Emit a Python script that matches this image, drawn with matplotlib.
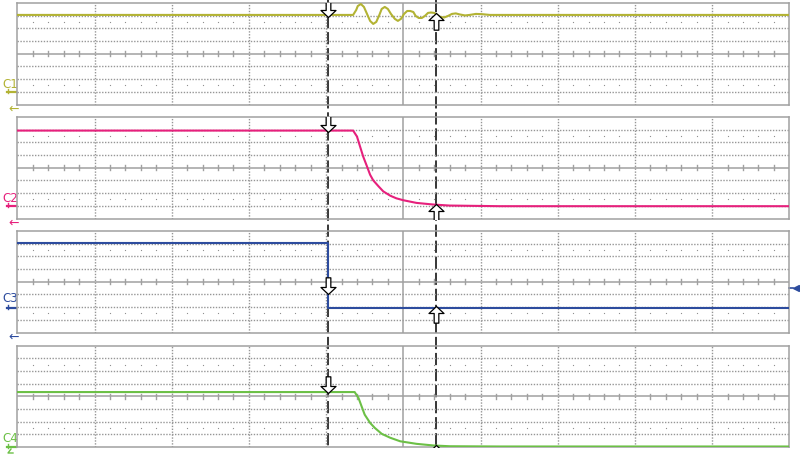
import numpy as np
import matplotlib
matplotlib.use("Agg")
from matplotlib import pyplot as plt
from matplotlib.path import Path
from matplotlib.lines import Line2D
from matplotlib.transforms import blended_transform_factory

# Traces : temps en divisions (0..10), amplitude en divisions (-4..4)
c1_t = [0, 4.35, 4.39, 4.41, 4.45, 4.49, 4.53, 4.57, 4.61, 4.65, 4.69, 4.72, 4.76, 4.80,
        4.84, 4.89, 4.93, 4.97, 5.01, 5.05, 5.09, 5.13, 5.16, 5.20, 5.24, 5.28, 5.32, 5.36,
        5.40, 5.44, 5.48, 5.53, 5.58, 5.63, 5.68, 5.73, 5.80, 5.86, 5.94, 6.02, 6.12, 10]
c1_v = [3.06, 3.06, 3.45, 3.76, 3.92, 3.69, 3.14, 2.59, 2.35, 2.51, 3.06, 3.53, 3.69, 3.53,
        3.14, 2.75, 2.59, 2.75, 3.14, 3.37, 3.37, 3.29, 2.98, 2.82, 2.82, 2.98, 3.22, 3.25,
        3.22, 3.06, 2.90, 2.86, 2.98, 3.14, 3.18, 3.10, 3.02, 3.06, 3.14, 3.12, 3.06, 3.06]

c2_t = [0, 4.35, 4.40, 4.44, 4.48, 4.53, 4.57, 4.61, 4.68, 4.74, 4.83, 4.91, 5.00, 5.17,
        5.39, 5.60, 6.25, 10]
c2_v = [2.93, 2.93, 2.46, 1.67, 0.89, 0.10, -0.55, -0.99, -1.47, -1.86, -2.20, -2.41, -2.56,
        -2.77, -2.90, -2.98, -3.03, -3.03]

c3_t = [0, 4.02, 4.02, 10]
c3_v = [3.04, 3.04, -2.06, -2.06]

c4_t = [0, 4.37, 4.42, 4.46, 4.50, 4.57, 4.63, 4.72, 4.83, 4.96, 5.17, 5.39, 5.60, 6.25, 10]
c4_v = [0.33, 0.33, -0.14, -0.80, -1.45, -2.10, -2.49, -2.96, -3.27, -3.55, -3.75, -3.88,
        -3.94, -3.96, -3.96]

# Curseurs et niveaux lus sur chaque trace
cursor_t = [4.02, 5.43]
mark_down = [2.93, 2.85, -0.94, 0.27]
mark_up = [3.22, -2.85, -1.94, -3.88]

labels = ["C1", "C2", "C3", "C4"]
colors = ["#b3b334", "#e6207c", "#2d4c9e", "#6cc046"]
traces = [(c1_t, c1_v), (c2_t, c2_v), (c3_t, c3_v), (c4_t, c4_v)]

W, H = 800, 454
tops = [3, 117, 231, 345.5]
ph = 101.5
left, right = 17.3, 789.3
grid_col = "#a0a0a0"

# Flèches creuses (pointe à l'origine)
dv = [(0, 0), (0.45, 0.42), (0.14, 0.42), (0.14, 1), (-0.14, 1), (-0.14, 0.42), (-0.45, 0.42), (0, 0)]
codes = [Path.MOVETO] + [Path.LINETO] * 6 + [Path.CLOSEPOLY]
arrow_down = Path(dv, codes)
arrow_up = Path([(x, -y) for x, y in dv], codes)

fig = plt.figure(figsize=(W / 100, H / 100), dpi=100)
fig.patch.set_facecolor("white")

ov = fig.add_axes([0, 0, 1, 1], zorder=0)
ov.set_xlim(0, W)
ov.set_ylim(H, 0)
ov.axis("off")

minor = [x for x in np.arange(0.2, 10, 0.2) if abs(x - round(x)) > 1e-6]

axes = []
for i in range(4):
    ax = fig.add_axes([left / W, 1 - (tops[i] + ph) / H, (right - left) / W, ph / H], zorder=1)
    ax.set_facecolor("none")
    ax.set_xlim(0, 10)
    ax.set_ylim(-4, 4)
    ax.set_xticks([])
    ax.set_yticks([])
    for s in ax.spines.values():
        s.set_color(grid_col)
        s.set_linewidth(1.1)
    for x in range(1, 10):
        if x != 5:
            ax.axvline(x, color="#969696", lw=1.0, ls=(0, (1, 1.1)))
    for y in range(-3, 4):
        if y != 0:
            ax.axhline(y, color="#969696", lw=1.0, ls=(0, (1, 1.1)))
    ax.axhline(0, color=grid_col, lw=1.1)
    ax.axvline(5, color=grid_col, lw=1.1)
    for x in minor:
        ax.plot([x, x], [-0.2, 0.2], color=grid_col, lw=1.0)
    ax.plot(minor, [2.5] * len(minor), ls="none", marker="s", ms=0.8, mew=0, color="#909090")
    ax.plot(minor, [-2.5] * len(minor), ls="none", marker="s", ms=0.8, mew=0, color="#909090")

    t, v = traces[i]
    ax.plot(t, v, color=colors[i], lw=1.5, zorder=4)
    ax.plot(cursor_t[0], mark_down[i], marker=arrow_down, ms=24, mfc="white",
            mec="black", mew=0.9, zorder=6)
    ax.plot(cursor_t[1], mark_up[i], marker=arrow_up, ms=24, mfc="white",
            mec="black", mew=0.9, zorder=6)
    axes.append(ax)

# Curseurs verticaux sur toute la hauteur
tr = blended_transform_factory(axes[0].transData, ov.transData)
for ct in cursor_t:
    ov.add_line(Line2D([ct, ct], [0, 448], transform=tr, color="black", lw=1.1,
                       ls=(0, (8, 2.5))))

# Étiquettes des voies
label_y = [84, 198, 298, 438]
level_y = [92, 206, 308, 447]
for i in range(4):
    ov.text(2.5, label_y[i], labels[i], color=colors[i], fontsize=8.5, va="center", ha="left")
    ov.plot([7, 16], [level_y[i], level_y[i]], color=colors[i], lw=1.6)
    ov.plot([7.5, 7.5], [level_y[i] - 3, level_y[i] + 1], color=colors[i], lw=1.0)
    if i < 3:
        ov.text(8, tops[i] + ph + 5, "←", color=colors[i], fontsize=9, va="center", ha="left")
    else:
        ov.plot([11, 8, 13], [449, 453, 453], color=colors[i], lw=1.0)

# Niveau de déclenchement sur C3
ov.plot([789, 793], [287.7, 287.7], color=colors[2], lw=1.2)
ov.plot(795.5, 287.7, marker="<", ms=5, color=colors[2])

fig.savefig("out.png", dpi=100)
